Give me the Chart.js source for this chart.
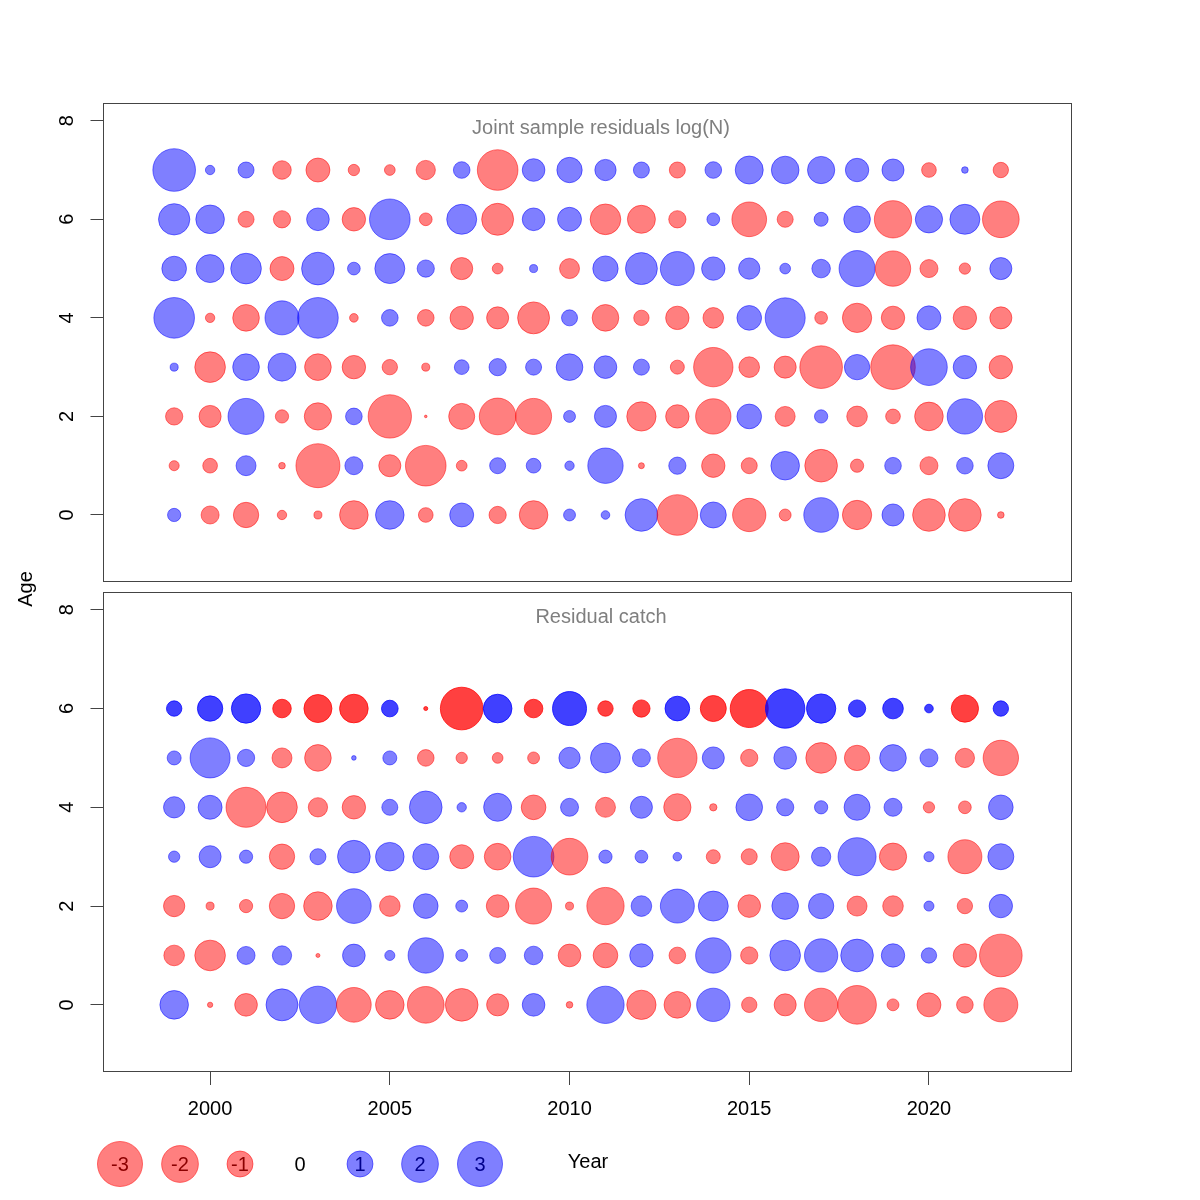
<!DOCTYPE html>
<html>
<head>
<meta charset="utf-8">
<script src="https://cdn.jsdelivr.net/npm/chart.js@4.4.1/dist/chart.umd.min.js"></script>
<style>
  html, body { margin: 0; padding: 0; background: #fff; }
  #wrap { position: relative; width: 1200px; height: 1200px; background: #fff; }
  canvas { position: absolute; left: 0; }
</style>
</head>
<body>
<div id="wrap">
  <canvas id="survey" width="1200" height="600" style="top:0"></canvas>
  <canvas id="catch" width="1200" height="640" style="top:560px"></canvas>
</div>
<script>
// years on the x axis
const years = [1999, 2000, 2001, 2002, 2003, 2004, 2005, 2006, 2007, 2008, 2009, 2010,
               2011, 2012, 2013, 2014, 2015, 2016, 2017, 2018, 2019, 2020, 2021, 2022];

// joint sample residuals log(N), one array per age
const surveyAge0 = [0.26, -0.48, -0.95, -0.13, -0.095, -1.21, 1.21, -0.32, 0.85, -0.44, -1.21, 0.21,
                    0.11, 1.58, -2.44, 1.00, -1.64, -0.21, 1.78, -1.27, 0.72, -1.58, -1.58, -0.065];
const surveyAge1 = [-0.15, -0.32, 0.59, -0.065, -2.86, 0.48, -0.72, -2.44, -0.17, 0.38, 0.32, 0.13,
                    1.85, -0.053, 0.44, -0.81, -0.38, 1.21, -1.58, -0.26, 0.41, -0.48, 0.41, 1.00];
const surveyAge2 = [-0.44, -0.72, 1.92, -0.26, -1.10, 0.41, -2.78, -0.01, -1.00, -1.99, -1.92, 0.21,
                    0.72, -1.27, -0.81, -1.85, 0.90, -0.59, 0.26, -0.63, -0.32, -1.21, 1.85, -1.51];
const surveyAge3 = [0.095, -1.39, 1.05, 1.16, -1.05, -0.81, -0.35, -0.095, 0.32, 0.44, 0.38, 1.05,
                    0.76, 0.38, -0.29, -2.29, -0.63, -0.72, -2.69, 0.95, -2.94, 1.99, 0.81, -0.81];
const surveyAge4 = [2.44, -0.13, -1.05, 1.71, 2.44, -0.11, 0.41, -0.41, -0.81, -0.72, -1.51, 0.38,
                    -1.05, -0.35, -0.81, -0.63, 0.90, 2.37, -0.24, -1.27, -0.81, 0.85, -0.81, -0.72];
const surveyAge5 = [0.90, 1.16, 1.39, -0.85, 1.58, 0.24, 1.33, 0.44, -0.72, -0.17, 0.095, -0.59,
                    0.95, 1.51, 1.71, 0.81, 0.67, 0.17, 0.51, 1.92, -1.85, -0.48, -0.19, 0.72];
const surveyAge6 = [1.45, 1.21, -0.38, -0.44, 0.76, -0.81, 2.44, -0.24, 1.33, -1.51, 0.76, 0.85,
                    -1.39, -1.16, -0.44, 0.24, -1.78, -0.38, 0.29, 1.05, -2.06, 1.10, 1.33, -1.99];
const surveyAge7 = [2.69, 0.13, 0.38, -0.51, -0.85, -0.19, -0.17, -0.55, 0.41, -2.44, 0.76, 0.95,
                    0.67, 0.38, -0.38, 0.41, 1.16, 1.13, 1.10, 0.81, 0.72, -0.32, 0.065, -0.35];

// residual catch, one array per age (age 6 is the plus group)
const catchAge0 = [1.21, -0.042, -0.76, 1.51, 2.06, -1.78, -1.21, -1.99, -1.58, -0.72, 0.76, -0.065,
                   2.06, -1.27, -1.05, 1.64, -0.35, -0.72, -1.64, -2.21, -0.21, -0.85, -0.41, -1.71];
const catchAge1 = [-0.63, -1.39, 0.48, 0.55, -0.024, 0.76, 0.15, 1.85, 0.21, 0.38, 0.51, -0.76,
                   -0.90, 0.81, -0.41, 1.85, -0.44, 1.39, 1.64, 1.58, 0.81, 0.35, -0.81, -2.69];
const catchAge2 = [-0.67, -0.095, -0.26, -0.95, -1.21, 1.78, -0.63, 0.90, 0.21, -0.76, -1.92, -0.095,
                   -2.06, 0.63, 1.71, 1.33, -0.76, 1.05, 0.95, -0.59, -0.63, 0.15, -0.35, 0.81];
const catchAge3 = [0.19, 0.72, 0.26, -0.95, 0.38, 1.58, 1.21, 1.00, -0.85, -1.05, 2.44, -1.99,
                   0.26, 0.24, 0.11, -0.29, -0.38, -1.16, 0.55, 2.14, -1.10, 0.15, -1.71, 1.00];
const catchAge4 = [0.67, 0.85, -2.37, -1.39, -0.55, -0.81, 0.38, 1.58, 0.13, 1.16, -0.90, 0.48,
                   -0.59, 0.72, -1.10, -0.08, 1.05, 0.44, 0.26, 1.00, 0.48, -0.19, -0.24, 0.90];
const catchAge5 = [0.29, 2.37, 0.44, -0.59, -1.05, 0.032, 0.29, -0.41, -0.19, -0.17, -0.21, 0.67,
                   1.33, 0.48, -2.29, 0.72, -0.44, 0.76, -1.39, -0.95, 1.05, 0.48, -0.55, -1.85];
const catchAge6 = [0.35, 0.95, 1.27, -0.51, -1.16, -1.21, 0.41, -0.024, -2.69, 1.21, -0.51, 1.71,
                   -0.35, -0.44, 0.90, -1.00, -2.14, 2.29, 1.27, 0.44, 0.63, 0.11, -1.10, 0.35];

// axis ticks and bubble key
const ageTicks = [0, 2, 4, 6, 8];
const yearTicks = [2000, 2005, 2010, 2015, 2020];
const legendValues = [-3, -2, -1, 0, 1, 2, 3];

Chart.defaults.font.family = '"Liberation Sans", Arial, sans-serif';
Chart.defaults.font.size = 20;
Chart.defaults.color = '#000';

const bubbleRadius = v => 13 * Math.sqrt(Math.abs(v));
const fillColor = (v, alpha) => v < 0 ? 'rgba(255,0,0,' + alpha + ')' : 'rgba(0,0,255,' + alpha + ')';

function toPoints(rows) {
    const pts = [];
    rows.forEach((vals, age) => {
        vals.forEach((v, i) => pts.push({ x: years[i], y: age, v: v }));
    });
    return pts;
}

// box round the plot area plus the grey panel title
const panelBox = {
    id: 'panelBox',
    afterDraw(chart, args, opts) {
        const { ctx, chartArea: a } = chart;
        ctx.save();
        ctx.strokeStyle = '#444';
        ctx.lineWidth = 1;
        ctx.strokeRect(a.left + 0.5, a.top + 0.5, a.right - a.left - 1, a.bottom - a.top - 1);
        ctx.fillStyle = '#7f7f7f';
        ctx.font = '20px "Liberation Sans", Arial, sans-serif';
        ctx.textAlign = 'center';
        ctx.textBaseline = 'alphabetic';
        ctx.fillText(opts.title, 601, a.top + 31);
        ctx.restore();
    }
};

// bubble key, "Year" and the shared "Age" label
const bubbleKey = {
    id: 'bubbleKey',
    afterDraw(chart) {
        const ctx = chart.ctx;
        const y = 604;
        ctx.save();
        ctx.font = '20px "Liberation Sans", Arial, sans-serif';
        ctx.textAlign = 'center';
        ctx.textBaseline = 'middle';
        legendValues.forEach((v, i) => {
            const x = 120 + 60 * i;
            if (v !== 0) {
                ctx.beginPath();
                ctx.arc(x, y, bubbleRadius(v), 0, Math.PI * 2);
                ctx.fillStyle = fillColor(v, 0.5);
                ctx.strokeStyle = fillColor(v, 0.5);
                ctx.fill();
                ctx.stroke();
            }
            ctx.fillStyle = v < 0 ? '#8b0000' : (v > 0 ? '#00008b' : '#000');
            ctx.fillText(String(v), x, y + 1);
        });
        ctx.fillStyle = '#000';
        ctx.fillText('Year', 588, y - 2);
        ctx.translate(26, 29);
        ctx.rotate(-Math.PI / 2);
        ctx.fillText('Age', 0, 0);
        ctx.restore();
    }
};

function makePanel(canvasId, title, rows, plusAge, padding, showX) {
    const points = toPoints(rows);
    const alphaFor = ctx => (ctx.raw && ctx.raw.y === plusAge) ? 0.75 : 0.5;
    return new Chart(document.getElementById(canvasId), {
        type: 'bubble',
        data: {
            datasets: [{
                data: points,
                radius: ctx => ctx.raw ? bubbleRadius(ctx.raw.v) : 0,
                backgroundColor: ctx => fillColor(ctx.raw ? ctx.raw.v : 0, alphaFor(ctx)),
                borderColor: ctx => fillColor(ctx.raw ? ctx.raw.v : 0, alphaFor(ctx)),
                borderWidth: 1,
                hoverRadius: 0,
                clip: false
            }]
        },
        options: {
            responsive: false,
            animation: false,
            devicePixelRatio: 1,
            events: [],
            layout: { padding: padding, autoPadding: false },
            plugins: {
                legend: { display: false },
                tooltip: { enabled: false },
                panelBox: { title: title }
            },
            scales: {
                x: {
                    type: 'linear',
                    min: 1997.02,
                    max: 2023.98,
                    display: showX,
                    afterBuildTicks: s => { s.ticks = yearTicks.map(v => ({ value: v })); },
                    afterFit: s => { s.height = showX ? 60 : 0; s.paddingLeft = 0; s.paddingRight = 0; },
                    border: { display: false },
                    grid: { drawOnChartArea: false, drawTicks: true, tickLength: 13, color: '#444' },
                    ticks: { padding: 12, maxRotation: 0, autoSkip: false, callback: v => String(v) }
                },
                y: {
                    type: 'linear',
                    min: -1.36,
                    max: 8.36,
                    afterBuildTicks: s => { s.ticks = ageTicks.map(v => ({ value: v })); },
                    afterFit: s => { s.width = 103; s.paddingTop = 0; s.paddingBottom = 0; },
                    border: { display: false },
                    grid: { drawOnChartArea: false, drawTicks: true, tickLength: 12.5, color: '#444' },
                    ticks: {
                        padding: 17,
                        minRotation: 90,
                        maxRotation: 90,
                        crossAlign: 'center',
                        autoSkip: false,
                        callback: v => String(v)
                    }
                }
            }
        },
        plugins: showX ? [panelBox, bubbleKey] : [panelBox]
    });
}

makePanel('survey', 'Joint sample residuals log(N)',
    [surveyAge0, surveyAge1, surveyAge2, surveyAge3, surveyAge4, surveyAge5, surveyAge6, surveyAge7],
    -1, { left: 0, top: 103, right: 128, bottom: 18 }, false);

makePanel('catch', 'Residual catch',
    [catchAge0, catchAge1, catchAge2, catchAge3, catchAge4, catchAge5, catchAge6],
    6, { left: 0, top: 32, right: 128, bottom: 68 }, true);
</script>
</body>
</html>
